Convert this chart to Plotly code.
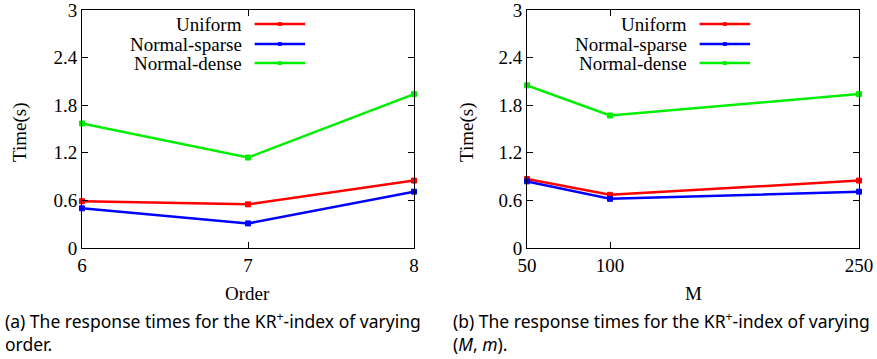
import plotly.graph_objects as go

# ---- data ----
order_x = [6, 7, 8]
order_uniform = [0.59, 0.55, 0.85]
order_sparse = [0.50, 0.31, 0.71]
order_dense = [1.57, 1.14, 1.94]

m_x = [50, 100, 250]
m_uniform = [0.87, 0.67, 0.85]
m_sparse = [0.84, 0.62, 0.71]
m_dense = [2.05, 1.67, 1.94]

series_names = ["Uniform", "Normal-sparse", "Normal-dense"]
series_colors = ["#ff0000", "#0000ff", "#00ee00"]

y_ticks = [0, 0.6, 1.2, 1.8, 2.4, 3]
y_ticktext = ["0", "0.6", "1.2", "1.8", "2.4", "3"]
order_ticks = [6, 7, 8]
m_ticks = [50, 100, 250]

captions = [
    "(a) The response times for the KR<sup>+</sup>-index of varying<br>order.",
    "(b) The response times for the KR<sup>+</sup>-index of varying<br>(<i>M</i>, <i>m</i>).",
]

W, H = 877, 359
SERIF = "Liberation Serif, Times New Roman, serif"
CAP = "Noto Sans, Open Sans, sans-serif"

fig = go.Figure()

def add_series(xs, ys_list, xa, ya):
    for name, ys, c in zip(series_names, ys_list, series_colors):
        fig.add_trace(go.Scatter(
            x=xs, y=ys, mode="lines+markers", name=name, showlegend=False,
            line=dict(color=c, width=2.5),
            marker=dict(color=c, size=5, symbol="square", line=dict(color=c, width=1)),
            xaxis=xa, yaxis=ya, cliponaxis=False))

add_series(order_x, [order_uniform, order_sparse, order_dense], "x", "y")
add_series(m_x, [m_uniform, m_sparse, m_dense], "x2", "y2")

ydom = [(H - 248) / H, (H - 10) / H]
xdom1 = [82 / W, 414 / W]
xdom2 = [527 / W, 859 / W]

axis_common = dict(showline=True, linecolor="black", linewidth=1, mirror="ticks",
                   ticks="inside", ticklen=6, tickcolor="black", showgrid=False,
                   zeroline=False, automargin=False, ticklabeloverflow="allow",
                   tickfont=dict(family=SERIF, size=19, color="black"))

fig.update_layout(
    width=W, height=H, margin=dict(l=0, r=0, t=0, b=0, autoexpand=False),
    paper_bgcolor="white", plot_bgcolor="white", showlegend=False,
    xaxis=dict(domain=xdom1, anchor="y", range=[6, 8], tickvals=order_ticks, **axis_common),
    yaxis=dict(domain=ydom, anchor="x", range=[0, 3], tickvals=y_ticks, ticktext=y_ticktext, **axis_common),
    xaxis2=dict(domain=xdom2, anchor="y2", range=[50, 250], tickvals=m_ticks, **axis_common),
    yaxis2=dict(domain=ydom, anchor="x2", range=[0, 3], tickvals=y_ticks, ticktext=y_ticktext, **axis_common),
)

annotations = []
shapes = []
# axis titles
for xc, title in [((82 + 414) / 2, "Order"), ((527 + 859) / 2, "M")]:
    annotations.append(dict(x=xc / W, y=(H - 293) / H, xref="paper", yref="paper",
                            text=title, showarrow=False, xanchor="center", yanchor="middle",
                            font=dict(family=SERIF, size=19, color="black")))
for xc in [20, 467]:
    annotations.append(dict(x=xc / W, y=(H - 133) / H, xref="paper", yref="paper",
                            text="Time(s)", textangle=-90, showarrow=False,
                            xanchor="center", yanchor="middle",
                            font=dict(family=SERIF, size=19, color="black")))
# captions
for xl, cap in [(3, captions[0]), (451, captions[1])]:
    annotations.append(dict(x=xl / W, y=(H - 306) / H, xref="paper", yref="paper",
                            text=cap, showarrow=False, xanchor="left", yanchor="top",
                            align="left",
                            font=dict(family=CAP, size=17.5, color="black")))
# legends
leg_y = [0.941, 0.857, 0.777]
for xr, yr in [("x domain", "y domain"), ("x2 domain", "y2 domain")]:
    for name, c, ly in zip(series_names, series_colors, leg_y):
        annotations.append(dict(x=0.488, y=ly, xref=xr, yref=yr, text=name, showarrow=False,
                                xanchor="right", yanchor="middle",
                                font=dict(family=SERIF, size=19, color="black")))
        shapes.append(dict(type="line", xref=xr, yref=yr, x0=0.52, x1=0.672, y0=ly, y1=ly,
                           line=dict(color=c, width=2.5)))
        shapes.append(dict(type="rect", xref=xr, yref=yr, x0=0.596 - 0.006, x1=0.596 + 0.006,
                           y0=ly - 0.008, y1=ly + 0.008, fillcolor=c, line=dict(color=c, width=0)))

fig.update_layout(annotations=annotations, shapes=shapes)
fig.write_html("out.html")
